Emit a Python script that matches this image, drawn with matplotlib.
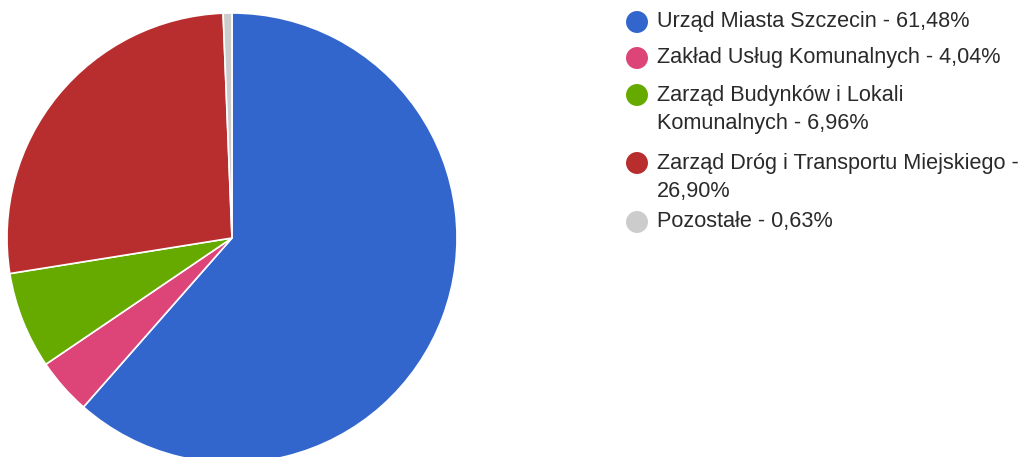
import matplotlib
matplotlib.use("Agg")
from matplotlib import pyplot as plt

names = ["Urząd Miasta Szczecin", "Zakład Usług Komunalnych",
         "Zarząd Budynków i Lokali Komunalnych",
         "Zarząd Dróg i Transportu Miejskiego", "Pozostałe"]
shares = [61.48, 4.04, 6.96, 26.90, 0.63]
colors = ["#3366cc", "#dd4477", "#66aa00", "#b82e2e", "#cccccc"]
# legend lines as wrapped in the original
legend_lines = [
    ["Urząd Miasta Szczecin - 61,48%"],
    ["Zakład Usług Komunalnych - 4,04%"],
    ["Zarząd Budynków i Lokali", "Komunalnych - 6,96%"],
    ["Zarząd Dróg i Transportu Miejskiego -", "26,90%"],
    ["Pozostałe - 0,63%"],
]

W, H = 1030, 457
fig = plt.figure(figsize=(W / 100, H / 100), dpi=100)

# pie: centre (232, 238) px, radius 225 px
cx, cy, r = 232, 238, 225
ax = fig.add_axes([(cx - r) / W, (H - cy - r) / H, 2 * r / W, 2 * r / H])
ax.pie(shares, colors=colors, startangle=90, counterclock=False, radius=1,
       wedgeprops=dict(edgecolor="white", linewidth=1.2))
ax.set_xlim(-1, 1)
ax.set_ylim(-1, 1)
ax.set_aspect("equal")
ax.axis("off")

# legend in pixel coordinates
lg = fig.add_axes([0, 0, 1, 1])
lg.set_xlim(0, W)
lg.set_ylim(H, 0)
lg.axis("off")
row_y = [22, 58, 95, 163, 222]
for y, lines, c in zip(row_y, legend_lines, colors):
    lg.scatter([637], [y], s=250, color=c, edgecolors="none")
    for i, line in enumerate(lines):
        lg.text(657, y + i * 28, line, fontsize=15.6, family="Liberation Sans",
                color="#2a2a2a", va="center", ha="left")

fig.savefig("out.png", dpi=100)
